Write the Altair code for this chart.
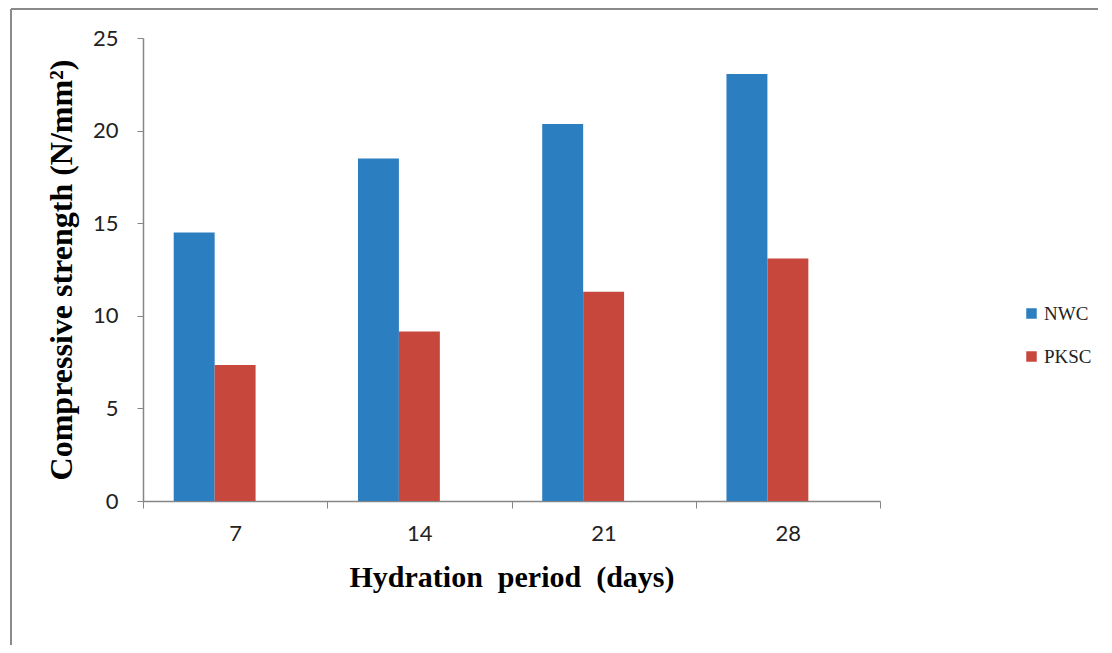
import altair as alt
import pandas as pd

days = ["7", "14", "21", "28"]
series = ["NWC", "PKSC"]
nwc = [14.5, 18.5, 20.35, 23.05]
pksc = [7.35, 9.15, 11.3, 13.1]
colors = ["#2B7EC0", "#C8473C"]

rows = []
for d, a, b in zip(days, nwc, pksc):
    rows.append({"Day": d, "Series": "NWC", "Value": a})
    rows.append({"Day": d, "Series": "PKSC", "Value": b})
df = pd.DataFrame(rows)

W, H = 737, 463
AX = "#868686"

bars = alt.Chart(df).mark_bar().encode(
    x=alt.X("Day:N", sort=days,
            scale=alt.Scale(paddingInner=0, paddingOuter=0),
            axis=alt.Axis(title="Hydration\u00a0 period\u00a0 (days)", labelAngle=0,
                          tickBand="extent", labelFont="Lato", labelFontSize=22,
                          labelColor="#222", labelPadding=15, tickSize=7,
                          tickColor=AX, domainColor=AX, domainWidth=1.5,
                          titleFont="Liberation Serif", titleFontSize=30,
                          titleFontWeight="bold", titleColor="#000",
                          titlePadding=18)),
    xOffset=alt.XOffset("Series:N",
                        scale=alt.Scale(domain=series + ["_"], paddingInner=0,
                                        paddingOuter=0.75)),
    y=alt.Y("Value:Q",
            scale=alt.Scale(domain=[0, 25], nice=False),
            axis=alt.Axis(title="Compressive strength (N/mm²)", values=[0, 5, 10, 15, 20, 25],
                          grid=False, labelFont="Lato", labelFontSize=22,
                          labelColor="#222", labelPadding=19, tickSize=6,
                          tickColor=AX, domainColor=AX, domainWidth=1.5,
                          titleFont="Liberation Serif", titleFontSize=32,
                          titleFontWeight="bold", titleColor="#000",
                          titlePadding=14)),
    color=alt.Color("Series:N",
                    scale=alt.Scale(domain=series, range=colors),
                    legend=alt.Legend(title=None, orient="none",
                                      legendX=879, legendY=266,
                                      symbolType="square", symbolSize=110,
                                      symbolStrokeWidth=0,
                                      labelFont="Liberation Serif",
                                      labelFontSize=19, labelColor="#222",
                                      labelOffset=3, rowPadding=23, padding=0)),
)

frame_data = alt.Data(values=[{"a": 1}])
left_line = alt.Chart(frame_data).mark_rule(color="#8a8a8a", strokeWidth=2).encode(
    x=alt.value(-132), y=alt.value(-29), y2=alt.value(607))
top_line = alt.Chart(frame_data).mark_rule(color="#8a8a8a", strokeWidth=2).encode(
    x=alt.value(-132), x2=alt.value(955), y=alt.value(-29))

chart = alt.layer(bars, left_line, top_line).properties(
    width=W, height=H, padding={"left": 2, "top": 0, "right": 0, "bottom": 0}
).configure_view(stroke=None)

chart.save("out.html", embed_options={"renderer": "svg", "actions": False})
